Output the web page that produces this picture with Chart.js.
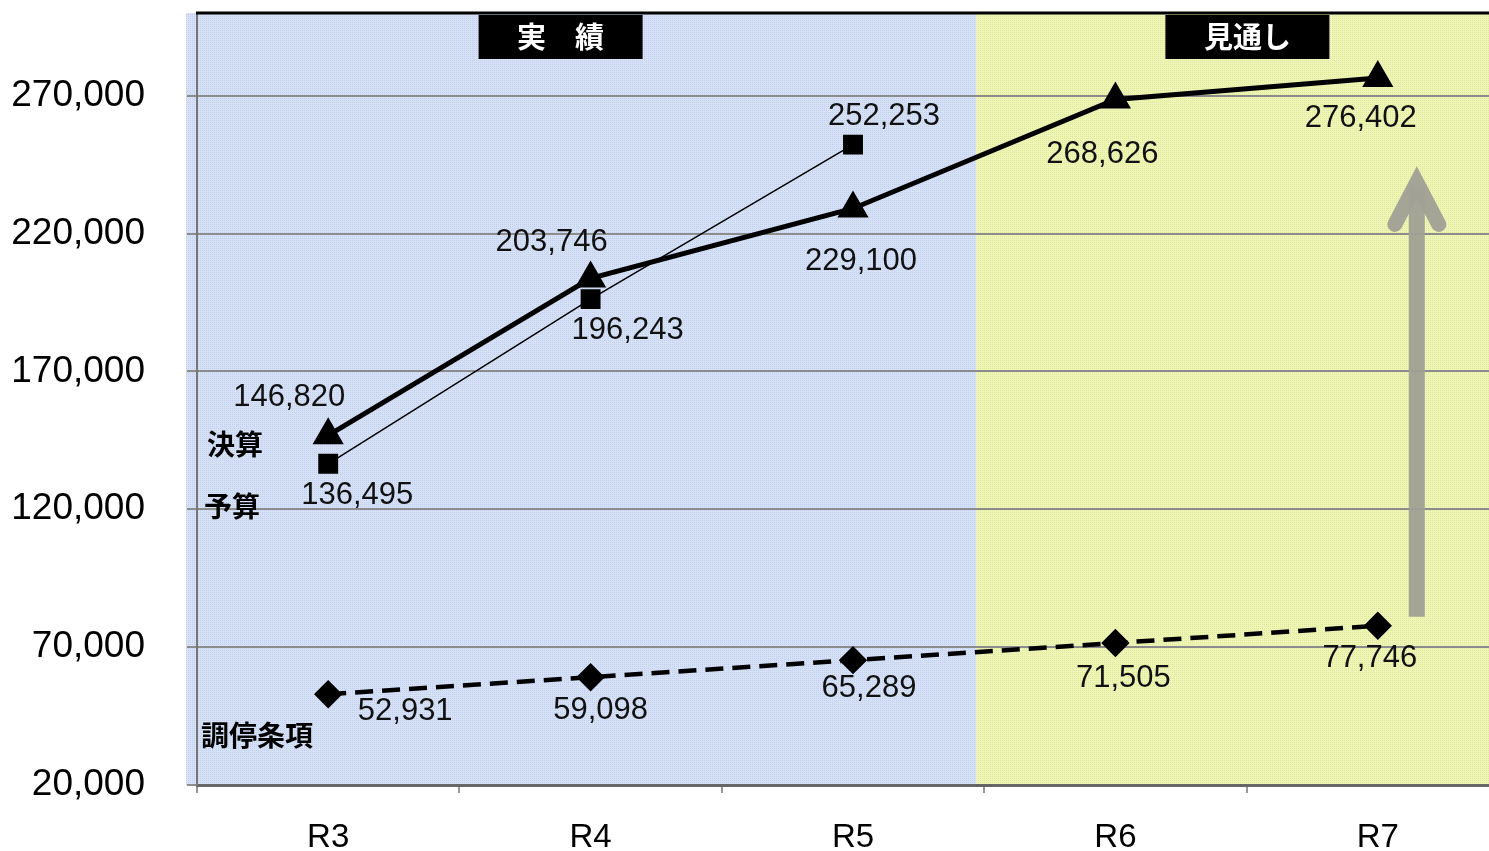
<!DOCTYPE html>
<html>
<head>
<meta charset="utf-8">
<script src="https://cdn.jsdelivr.net/npm/chart.js@4/dist/chart.umd.min.js"></script>
<style>
  html, body { margin: 0; padding: 0; background: #fff; overflow: hidden; }
  #wrap { width: 1489px; height: 851px; overflow: hidden; }
  canvas { display: block; }
</style>
</head>
<body>
<div id="wrap"><canvas id="chart" width="1512" height="851"></canvas></div>
<script>
// categories and values
const years = ["R3", "R4", "R5", "R6", "R7"];
const kessan = [146820, 203746, 229100, 268626, 276402];   // 決算
const yosan = [136495, 196243, 252253, null, null];        // 予算
const chotei = [52931, 59098, 65289, 71505, 77746];        // 調停条項
const yTicks = [20000, 70000, 120000, 170000, 220000, 270000];

// label offsets (px) from each point
const kessanOff = [[-39, -38], [-39, -36], [8, 53], [-13, 55], [-17, 40]];
const yosanOff = [[29, 32], [37, 31], [31, -28]];
const choteiOff = [[77, 17], [10, 33], [16, 28], [8, 35], [-8, 33]];

const fmt = v => v.toLocaleString("en-US");
const jp = '"Noto Sans CJK JP", "Noto Sans", sans-serif';

function makePattern(c1, c2) {
    const p = document.createElement("canvas");
    p.width = 4; p.height = 4;
    const g = p.getContext("2d");
    g.fillStyle = c1; g.fillRect(0, 0, 4, 4);
    g.fillStyle = c2;
    g.fillRect(0, 0, 1, 1); g.fillRect(2, 2, 1, 1);
    g.fillRect(2, 0, 1, 1); g.fillRect(0, 2, 1, 1);
    return g.createPattern(p, "repeat");
}

const bgPlugin = {
    id: "bg",
    beforeDraw(chart) {
        const { ctx, chartArea: a, scales: { x } } = chart;
        const split = x.getPixelForValue(2.47);
        ctx.save();
        ctx.fillStyle = makePattern("#d6e1f6", "#c0d0ee");
        ctx.fillRect(a.left - 11, a.top, split - (a.left - 11), a.bottom - a.top);
        ctx.fillStyle = makePattern("#eef5b6", "#dfe99a");
        ctx.fillRect(split, a.top, a.right - split, a.bottom - a.top);
        ctx.restore();
    },
    afterDraw(chart) {
        const { ctx, chartArea: a, scales: { x, y } } = chart;
        ctx.save();
        // top border
        ctx.strokeStyle = "#000";
        ctx.lineWidth = 3;
        ctx.beginPath();
        ctx.moveTo(a.left - 1, a.top);
        ctx.lineTo(a.right, a.top);
        ctx.stroke();

        // header boxes
        const box = (cx, txt) => {
            ctx.fillStyle = "#000";
            ctx.fillRect(cx - 82, a.top + 2, 164, 44);
            ctx.fillStyle = "#fff";
            ctx.font = "bold 29px " + jp;
            ctx.textAlign = "center";
            ctx.textBaseline = "middle";
            ctx.fillText(txt, cx, a.top + 24);
        };
        box(x.getPixelForValue(1) - 30, "実\u3000績");
        box(x.getPixelForValue(3) + 132, "見通し");

        // series names
        ctx.fillStyle = "#000";
        ctx.font = "bold 28px " + jp;
        ctx.textAlign = "center";
        ctx.textBaseline = "middle";
        ctx.fillText("決算", a.left + 38, 444);
        ctx.fillText("予算", a.left + 35, 506);
        ctx.fillText("調停条項", a.left + 60, 735);

        // arrow
        const ax = x.getPixelForValue(4) + 39;
        const y0 = y.getPixelForValue(81000);
        const y1 = y.getPixelForValue(244000);
        ctx.strokeStyle = "rgba(160,160,150,0.95)";
        ctx.lineWidth = 16;
        ctx.lineCap = "butt";
        ctx.beginPath();
        ctx.moveTo(ax, y0);
        ctx.lineTo(ax, y1 + 20);
        ctx.stroke();
        ctx.lineCap = "round";
        ctx.lineJoin = "miter";
        ctx.lineWidth = 15;
        ctx.beginPath();
        ctx.moveTo(ax - 22, y1 + 57);
        ctx.lineTo(ax, y1 + 15);
        ctx.lineTo(ax + 22, y1 + 57);
        ctx.stroke();
        ctx.restore();
    },
    afterDatasetsDraw(chart) {
        const { ctx } = chart;
        const offs = [kessanOff, yosanOff, choteiOff];
        ctx.save();
        ctx.fillStyle = "#111";
        ctx.font = '31px "Liberation Sans", Arial, sans-serif';
        ctx.textAlign = "center";
        ctx.textBaseline = "middle";
        chart.data.datasets.forEach((ds, i) => {
            const meta = chart.getDatasetMeta(i);
            meta.data.forEach((pt, j) => {
                const v = ds.data[j];
                if (v == null) return;
                const o = offs[i][j];
                ctx.fillText(fmt(v), pt.x + o[0], pt.y + o[1]);
            });
        });
        ctx.restore();
    }
};

new Chart(document.getElementById("chart"), {
    type: "line",
    data: {
        labels: years,
        datasets: [
            {
                label: "決算",
                data: kessan,
                borderColor: "#000",
                backgroundColor: "#000",
                borderWidth: 5,
                pointStyle: "triangle",
                pointRadius: 13,
                pointHoverRadius: 13,
                order: 1
            },
            {
                label: "予算",
                data: yosan,
                borderColor: "#000",
                backgroundColor: "#000",
                borderWidth: 1.5,
                pointStyle: "rect",
                pointRadius: 13,
                pointHoverRadius: 13,
                order: 2
            },
            {
                label: "調停条項",
                data: chotei,
                borderColor: "#000",
                backgroundColor: "#000",
                borderWidth: 4.5,
                borderDash: [18, 9],
                pointStyle: "rectRot",
                pointRadius: 11,
                pointHoverRadius: 11,
                order: 3
            }
        ]
    },
    options: {
        responsive: false,
        animation: false,
        layout: { autoPadding: false, padding: { top: 13, right: 3, left: 0, bottom: 0 } },
        plugins: { legend: { display: false }, tooltip: { enabled: false } },
        elements: { line: { tension: 0 }, point: { borderWidth: 0 } },
        scales: {
            x: {
                offset: true,
                grid: { offset: true, drawOnChartArea: false, drawTicks: true, tickLength: 8, color: "#999", lineWidth: 2 },
                border: { display: true, color: "#666", width: 3 },
                ticks: { color: "#000", font: { family: '"Liberation Sans", Arial', size: 33 }, padding: 25 },
                afterFit(s) { s.height = 66; s.paddingLeft = 0; s.paddingRight = 0; }
            },
            y: {
                min: 20000,
                max: 300000,
                grid: { color: "#8c8c8c", lineWidth: 2, tickLength: 10 },
                border: { display: true, color: "#777", width: 2 },
                ticks: {
                    stepSize: 50000,
                    color: "#000",
                    font: { family: '"Liberation Sans", Arial', size: 37 },
                    padding: 42,
                    callback: v => fmt(v)
                },
                afterBuildTicks(s) { s.ticks = yTicks.map(v => ({ value: v })); },
                afterFit(s) { s.width = 197; s.paddingTop = 0; s.paddingBottom = 0; }
            }
        }
    },
    plugins: [bgPlugin]
});
</script>
</body>
</html>
